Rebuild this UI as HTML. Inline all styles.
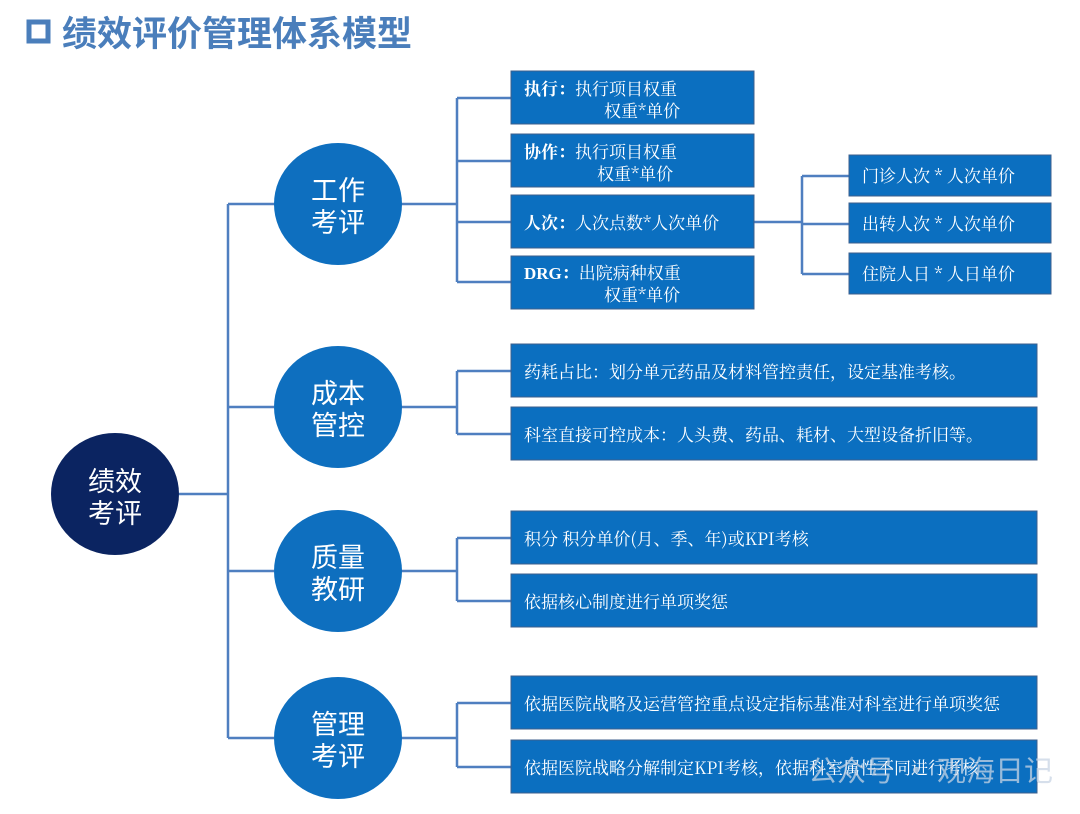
<!DOCTYPE html>
<html><head><meta charset="utf-8"><style>
html,body{margin:0;padding:0;background:#fff;width:1080px;height:814px;overflow:hidden}
svg{display:block}
.bt{font-family:"Noto Serif CJK SC","Liberation Serif",serif;font-size:17px;fill:#fff}
.ct{font-family:"Noto Sans CJK SC",sans-serif;font-size:27px;fill:#fff;text-anchor:middle}
</style></head><body>
<svg width="1080" height="814" viewBox="0 0 1080 814">
<rect x="29" y="22" width="19" height="19" fill="none" stroke="#4a7ebb" stroke-width="5"/>
<text x="62" y="46" font-family="'Noto Sans CJK SC',sans-serif" font-weight="bold" font-size="35" fill="#4a7ebb">绩效评价管理体系模型</text>
<g stroke="#4f7fc0" stroke-width="2.5" fill="none">
<path d="M179 494H228M228 204V738M228 204H275M228 407H274M228 571H274M228 738H274"/>
<path d="M401 204H457M457 98V282M457 98H511M457 161H511M457 222H511M457 282H511"/>
<path d="M754 222H802M802 176V274M802 176H849M802 224H849M802 274H849"/>
<path d="M401 407H457M457 371V434M457 371H511M457 434H511"/>
<path d="M401 571H457M457 538V601M457 538H511M457 601H511"/>
<path d="M401 738H457M457 703V767M457 703H511M457 767H511"/>
</g>
<g fill="#0b6fc0" stroke="#3d5f8c" stroke-width="1">
<rect x="511" y="71" width="243" height="53"/>
<rect x="511" y="134" width="243" height="53"/>
<rect x="511" y="195" width="243" height="53"/>
<rect x="511" y="256" width="243" height="53"/>
<rect x="849" y="155" width="202" height="41"/>
<rect x="849" y="203" width="202" height="40"/>
<rect x="849" y="253" width="202" height="41"/>
<rect x="511" y="344" width="526" height="53"/>
<rect x="511" y="407" width="526" height="53"/>
<rect x="511" y="511" width="526" height="53"/>
<rect x="511" y="574" width="526" height="53"/>
<rect x="511" y="676" width="526" height="53"/>
<rect x="511" y="740" width="526" height="53"/>
</g>
<ellipse cx="115" cy="494" rx="64" ry="61" fill="#0b2461"/>
<ellipse cx="338" cy="204" rx="64" ry="61" fill="#0e6fbf"/>
<ellipse cx="338" cy="407" rx="64" ry="61" fill="#0e6fbf"/>
<ellipse cx="338" cy="571" rx="64" ry="61" fill="#0e6fbf"/>
<ellipse cx="338" cy="738" rx="64" ry="61" fill="#0e6fbf"/>
<text class="ct" x="115" y="491">绩效</text><text class="ct" x="115" y="523">考评</text>
<text class="ct" x="338" y="200">工作</text><text class="ct" x="338" y="232">考评</text>
<text class="ct" x="338" y="403">成本</text><text class="ct" x="338" y="435">管控</text>
<text class="ct" x="338" y="567">质量</text><text class="ct" x="338" y="599">教研</text>
<text class="ct" x="338" y="734">管理</text><text class="ct" x="338" y="766">考评</text>
<g class="bt">
<text x="524" y="95"><tspan font-weight="bold">执行：</tspan>执行项目权重</text>
<text x="604" y="117">权重*单价</text>
<text x="524" y="158"><tspan font-weight="bold">协作：</tspan>执行项目权重</text>
<text x="597" y="180">权重*单价</text>
<text x="524" y="229"><tspan font-weight="bold">人次：</tspan>人次点数*人次单价</text>
<text x="524" y="279"><tspan font-weight="bold" font-family="Liberation Serif,serif">DRG</tspan><tspan font-weight="bold">：</tspan>出院病种权重</text>
<text x="604" y="301">权重*单价</text>
<text x="862" y="182">门诊人次 * 人次单价</text>
<text x="862" y="230">出转人次 * 人次单价</text>
<text x="862" y="280">住院人日 * 人日单价</text>
<text x="524" y="378">药耗占比：划分单元药品及材料管控责任，设定基准考核。</text>
<text x="524" y="441">科室直接可控成本：人头费、药品、耗材、大型设备折旧等。</text>
<text x="524" y="545">积分 积分单价(月、季、年)或KPI考核</text>
<text x="524" y="608">依据核心制度进行单项奖惩</text>
<text x="524" y="710">依据医院战略及运营管控重点设定指标基准对科室进行单项奖惩</text>
<text x="524" y="774">依据医院战略分解制定KPI考核，依据科室属性不同进行考核</text>
</g>
<text x="808" y="781" font-family="'Noto Sans CJK SC',sans-serif" font-size="29" fill="#c8d4e4" fill-opacity="0.75">公众号 · 观海日记</text>
</svg>
</body></html>
